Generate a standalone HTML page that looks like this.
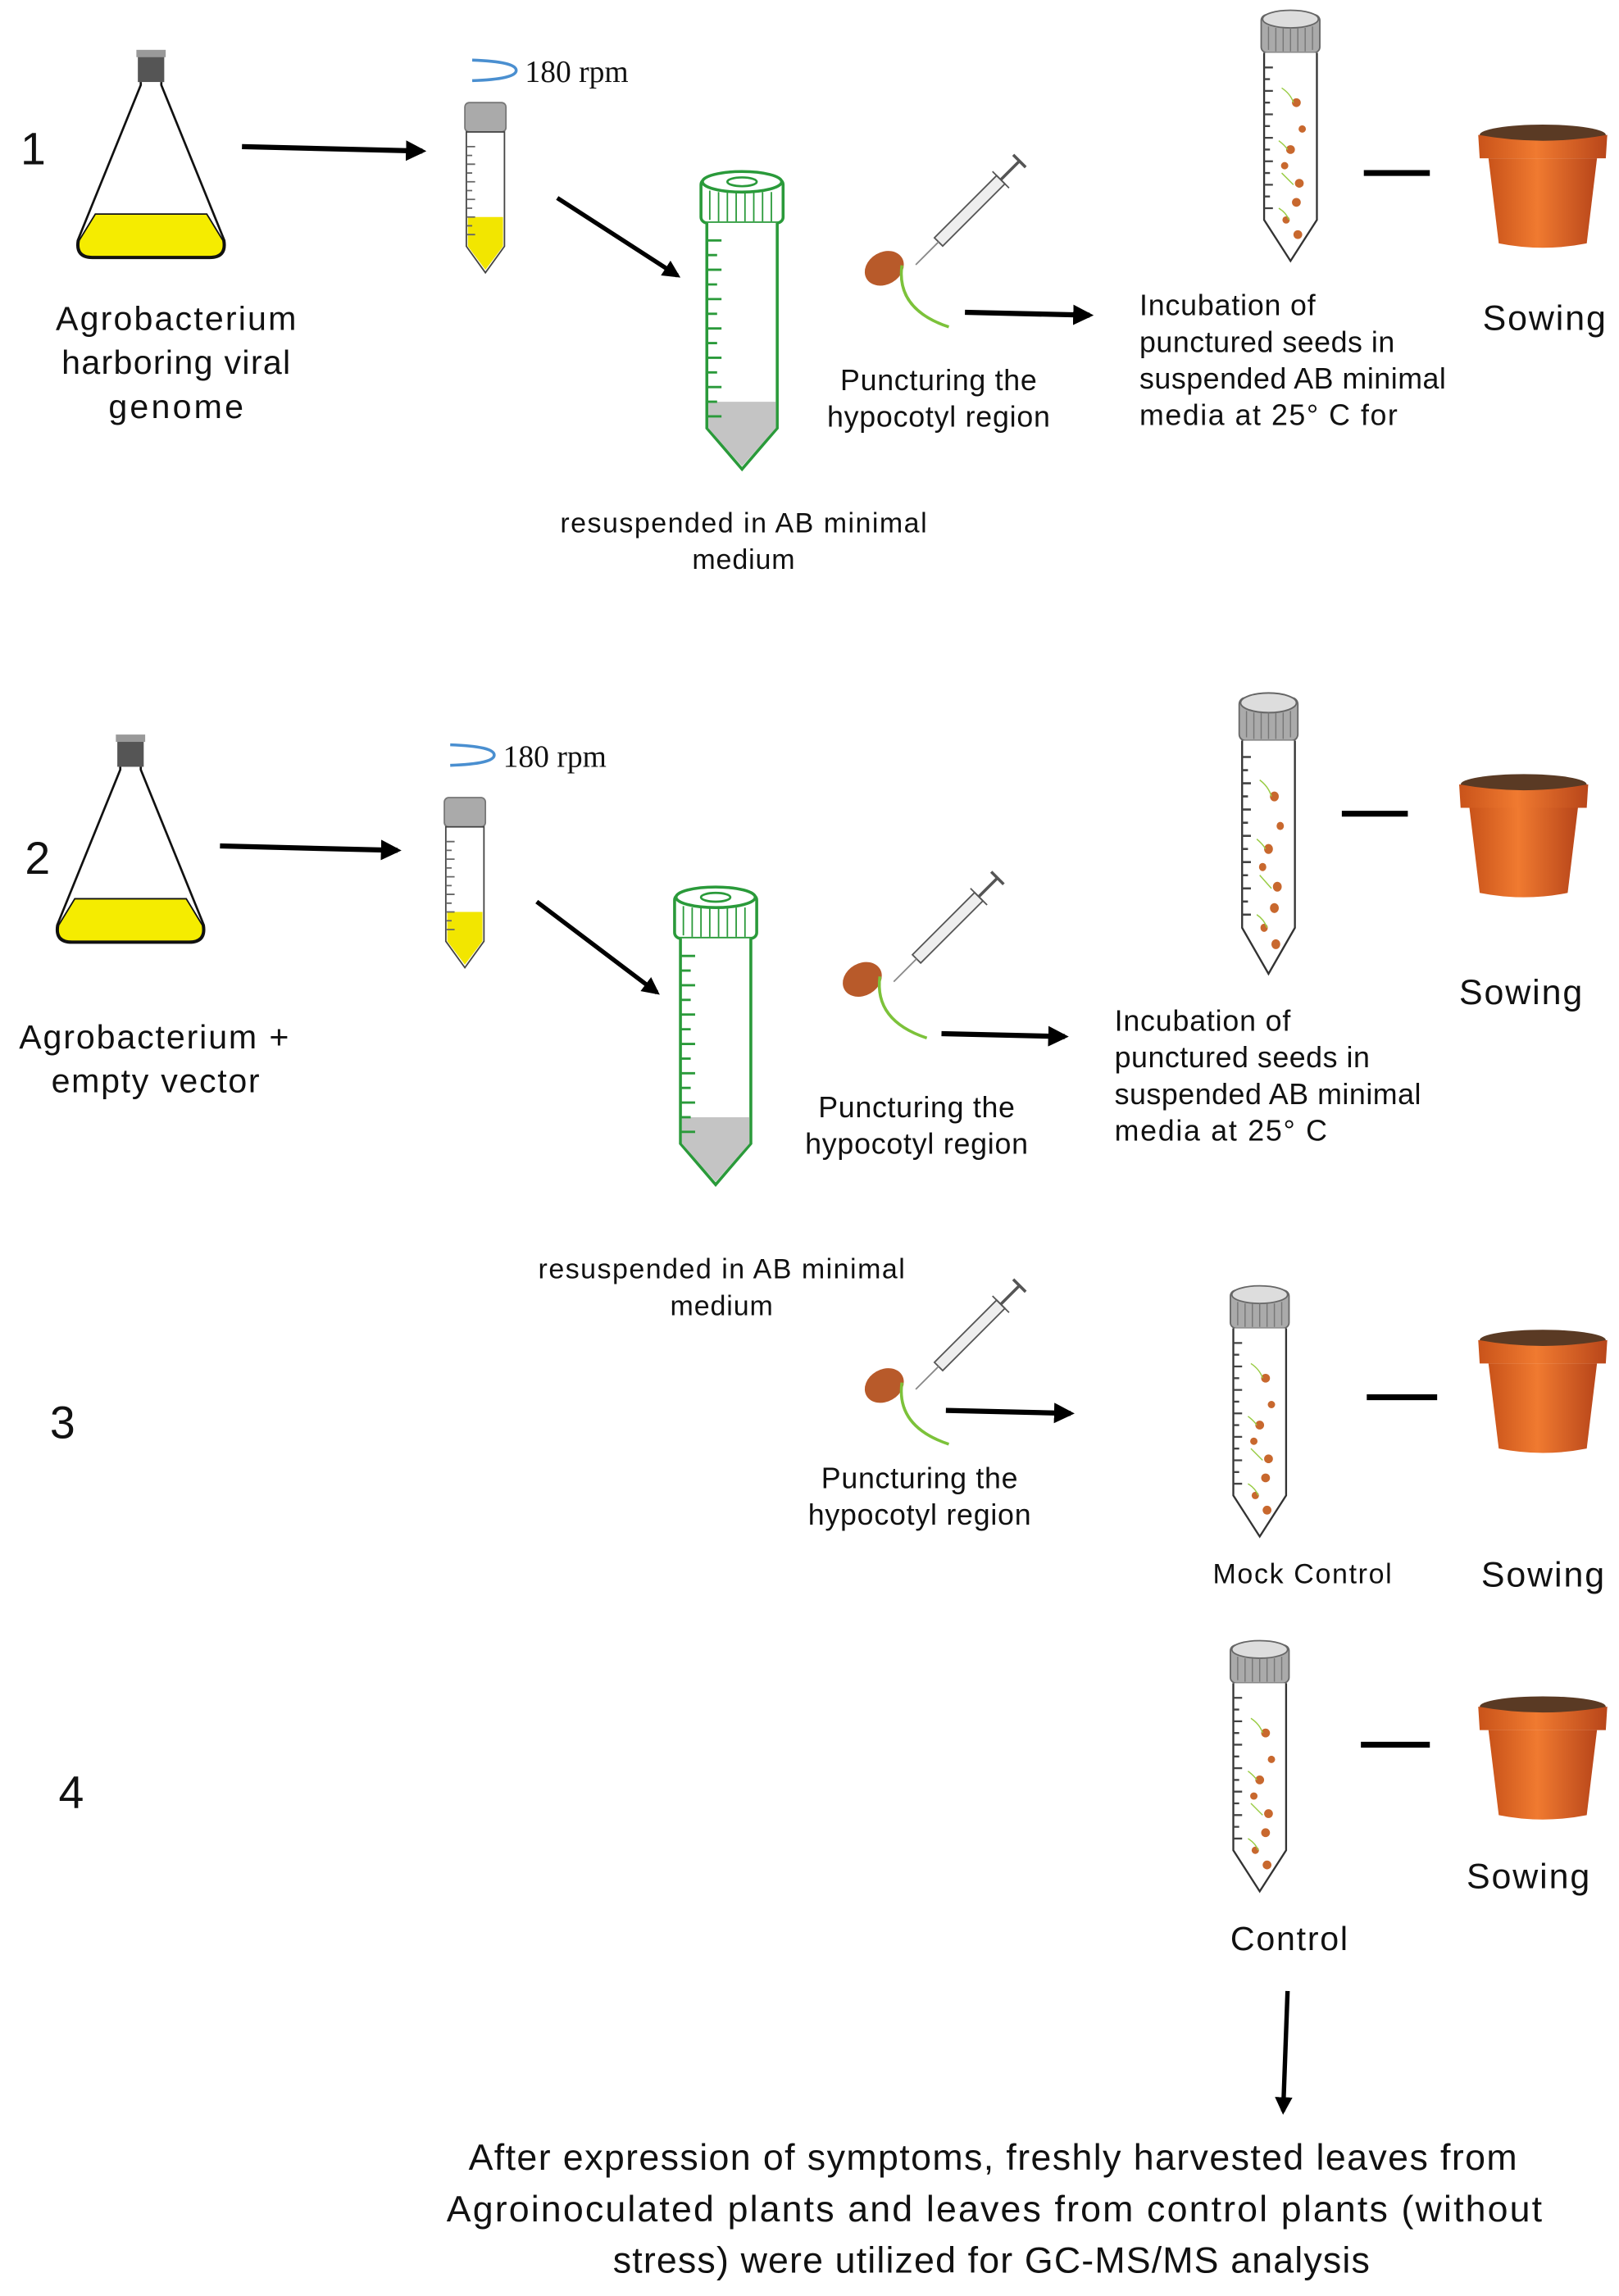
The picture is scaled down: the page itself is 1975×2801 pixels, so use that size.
<!DOCTYPE html>
<html><head><meta charset="utf-8"><style>
html,body{margin:0;padding:0;background:#fff;}
svg{display:block;}
text{font-family:"Liberation Sans",sans-serif;fill:#111;}
</style></head><body>
<svg width="1975" height="2801" viewBox="0 0 1104 1566" preserveAspectRatio="none" xmlns="http://www.w3.org/2000/svg">
<defs>
<marker id="ah" viewBox="0 0 10 10" refX="8" refY="5" markerWidth="4" markerHeight="4" orient="auto"><path d="M0,0 L10,5 L0,10 z" fill="#000"/></marker>
<g id="flask">
 <rect x="-9" y="0" width="18" height="20" fill="#555"/>
 <rect x="-10" y="-2" width="20" height="5" fill="#999"/>
 <path d="M-7,20 L-7,22 L-50,128 Q-52,140 -40,140 L40,140 Q52,140 50,128 L7,22 L7,20" fill="#fff" stroke="#111" stroke-width="1.5"/>
 <path d="M-38,110 L38,110 L49,128 Q51,139 40,139 L-40,139 Q-51,139 -49,128 z" fill="#f5ec00" stroke="#111" stroke-width="1"/>
</g>
<g id="smalltube">
 <rect x="-14" y="0" width="28" height="20" rx="3" fill="#aaa" stroke="#777"/>
 <path d="M-13,20 L-13,98 L0,116 L13,98 L13,20 z" fill="#fff" stroke="#444"/>
 <path d="M-12,78 L12,78 L12,98 L0,114 L-12,98 z" fill="#f2e600"/>
 <g stroke="#666" stroke-width="1"><path d="M-13,30h6M-13,36h4M-13,42h6M-13,48h4M-13,54h6M-13,60h4M-13,66h6M-13,72h4M-13,78h6M-13,84h4M-13,90h6"/></g>
</g>
<g id="greentube">
 <rect x="-28" y="0" width="56" height="30" rx="4" fill="#fff" stroke="#2a9a3a" stroke-width="2"/>
 <ellipse cx="0" cy="2" rx="27" ry="7" fill="#fff" stroke="#2a9a3a" stroke-width="2"/>
 <ellipse cx="0" cy="2" rx="10" ry="3" fill="none" stroke="#2a9a3a" stroke-width="1.5"/>
 <g stroke="#2a9a3a" stroke-width="1"><path d="M-22,8v20M-16,9v20M-10,9v20M-4,9v20M2,9v20M8,9v20M14,9v20M20,9v20"/></g>
 <path d="M-24,30 L-24,170 L0,198 L24,170 L24,30" fill="#fff" stroke="#2a9a3a" stroke-width="2"/>
 <path d="M-23,152 L23,152 L23,170 L0,196 L-23,170 z" fill="#c4c4c4"/>
 <g stroke="#2a9a3a" stroke-width="1.6"><path d="M-24,42h10M-24,52h7M-24,62h10M-24,72h7M-24,82h10M-24,92h7M-24,102h10M-24,112h7M-24,122h10M-24,132h7M-24,142h10M-24,152h7M-24,162h10"/></g>
</g>
<g id="seedtube">
 <rect x="-20" y="0" width="40" height="26" rx="4" fill="#aaa" stroke="#666"/>
 <ellipse cx="0" cy="3" rx="19" ry="6" fill="#ddd" stroke="#666"/>
 <g stroke="#777" stroke-width="0.8"><path d="M-15,8v16M-10,9v16M-5,9v16M0,9v16M5,9v16M10,9v16M15,8v16"/></g>
 <path d="M-18,26 L-18,140 L0,168 L18,140 L18,26" fill="#fff" stroke="#333" stroke-width="1.3"/>
 <g stroke="#444" stroke-width="1.3"><path d="M-18,36h6M-18,44h4M-18,52h6M-18,60h4M-18,68h6M-18,76h4M-18,84h6M-18,92h4M-18,100h6M-18,108h4M-18,116h6M-18,124h4M-18,132h6"/></g>
 <g fill="#c8682e"><circle cx="4" cy="60" r="3"/><circle cx="8" cy="78" r="2.5"/><circle cx="0" cy="92" r="3"/><circle cx="-4" cy="103" r="2.5"/><circle cx="6" cy="115" r="3"/><circle cx="4" cy="128" r="3"/><circle cx="-3" cy="140" r="2.5"/><circle cx="5" cy="150" r="3"/></g>
 <g stroke="#9c4" stroke-width="0.8" fill="none"><path d="M-6,50q6,4 8,10M-8,86q4,3 6,6M-6,108q4,4 8,8M-8,132q5,3 7,8"/></g>
</g>
<linearGradient id="potg" x1="0" x2="1"><stop offset="0" stop-color="#c9531a"/><stop offset="0.45" stop-color="#f07a30"/><stop offset="1" stop-color="#b8461a"/></linearGradient>
<g id="pot">
 <ellipse cx="0" cy="4" rx="43" ry="7" fill="#5a3a24"/>
 <path d="M-44,4 L-43,20 L43,20 L44,4 Q0,12 -44,4z" fill="url(#potg)"/>
 <path d="M-37,20 L-30,78 Q0,84 30,78 L37,20 z" fill="url(#potg)"/>
</g>
<g id="seed">
 <ellipse cx="0" cy="0" rx="14" ry="11" transform="rotate(-30)" fill="#b85a2a"/>
 <path d="M12,-2 Q8,28 44,40" fill="none" stroke="#7cc23a" stroke-width="2"/>
</g>
<g id="syringe">
 <g transform="rotate(-45)">
  <rect x="0" y="-4" width="60" height="8" fill="#eee" stroke="#555"/>
  <line x1="-22" y1="0" x2="0" y2="0" stroke="#888"/>
  <line x1="60" y1="0" x2="78" y2="0" stroke="#555" stroke-width="2"/>
  <line x1="60" y1="-8" x2="60" y2="8" stroke="#555"/>
  <line x1="78" y1="-6" x2="78" y2="6" stroke="#555" stroke-width="2"/>
 </g>
</g>
</defs>

<!-- Row 1 -->
<text x="14" y="112" font-size="31">1</text>
<use href="#flask" x="103" y="36"/>
<text font-size="23" text-anchor="middle" lengthAdjust="spacingAndGlyphs"><tspan x="120" y="225" textLength="164">Agrobacterium</tspan><tspan x="120" y="255" textLength="156">harboring viral</tspan><tspan x="120" y="285" textLength="92">genome</tspan></text>
<line x1="165" y1="100" x2="288" y2="103" stroke="#000" stroke-width="3.5" marker-end="url(#ah)"/>
<path d="M322,41 Q352,42 352,48 Q352,54 322,55" fill="none" stroke="#4a8fd0" stroke-width="2"/>
<text x="358" y="56" font-size="21" style="font-family:'Liberation Serif',serif">180 rpm</text>
<use href="#smalltube" x="331" y="70"/>
<line x1="380" y1="135" x2="462" y2="188" stroke="#000" stroke-width="3" marker-end="url(#ah)"/>
<use href="#greentube" x="506" y="122"/>
<text font-size="19" text-anchor="middle"><tspan x="507" y="363" textLength="250">resuspended in AB minimal</tspan><tspan x="507" y="388" textLength="70">medium</tspan></text>
<use href="#syringe" x="640" y="165"/>
<use href="#seed" x="603" y="183"/>
<text font-size="20" text-anchor="middle"><tspan x="640" y="266" textLength="134">Puncturing the</tspan><tspan x="640" y="291" textLength="152">hypocotyl region</tspan></text>
<line x1="658" y1="213" x2="743" y2="215" stroke="#000" stroke-width="3.5" marker-end="url(#ah)"/>
<use href="#seedtube" x="880" y="10"/>
<line x1="930" y1="118" x2="975" y2="118" stroke="#000" stroke-width="4"/>
<use href="#pot" x="1052" y="88"/>
<text font-size="20"><tspan x="777" y="215" textLength="120">Incubation of</tspan><tspan x="777" y="240" textLength="174">punctured seeds in</tspan><tspan x="777" y="265" textLength="209">suspended AB minimal</tspan><tspan x="777" y="290" textLength="176">media at 25° C for</tspan></text>
<text x="1011" y="225" font-size="24" textLength="84">Sowing</text>

<!-- Row 2 -->
<text x="17" y="596" font-size="31">2</text>
<use href="#flask" x="89" y="503"/>
<text font-size="23" text-anchor="middle"><tspan x="105" y="715" textLength="184">Agrobacterium +</tspan><tspan x="106" y="745" textLength="142">empty vector</tspan></text>
<line x1="150" y1="577" x2="271" y2="580" stroke="#000" stroke-width="3.5" marker-end="url(#ah)"/>
<path d="M307,508 Q337,509 337,515 Q337,521 307,522" fill="none" stroke="#4a8fd0" stroke-width="2"/>
<text x="343" y="523" font-size="21" style="font-family:'Liberation Serif',serif">180 rpm</text>
<use href="#smalltube" x="317" y="544"/>
<line x1="366" y1="615" x2="448" y2="677" stroke="#000" stroke-width="3" marker-end="url(#ah)"/>
<use href="#greentube" x="488" y="610"/>
<text font-size="19" text-anchor="middle"><tspan x="492" y="872" textLength="250">resuspended in AB minimal</tspan><tspan x="492" y="897" textLength="70">medium</tspan></text>
<use href="#syringe" x="625" y="654"/>
<use href="#seed" x="588" y="668"/>
<text font-size="20" text-anchor="middle"><tspan x="625" y="762" textLength="134">Puncturing the</tspan><tspan x="625" y="787" textLength="152">hypocotyl region</tspan></text>
<line x1="642" y1="705" x2="726" y2="707" stroke="#000" stroke-width="3.5" marker-end="url(#ah)"/>
<use href="#seedtube" x="865" y="476" transform="translate(865,476) scale(1,1.12) translate(-865,-476)"/>
<line x1="915" y1="555" x2="960" y2="555" stroke="#000" stroke-width="4"/>
<use href="#pot" x="1039" y="531"/>
<text font-size="20"><tspan x="760" y="703" textLength="120">Incubation of</tspan><tspan x="760" y="728" textLength="174">punctured seeds in</tspan><tspan x="760" y="753" textLength="209">suspended AB minimal</tspan><tspan x="760" y="778" textLength="145">media at 25° C</tspan></text>
<text x="995" y="685" font-size="24" textLength="84">Sowing</text>

<!-- Row 3 -->
<text x="34" y="981" font-size="31">3</text>
<use href="#syringe" x="640" y="932"/>
<use href="#seed" x="603" y="945"/>
<line x1="645" y1="962" x2="730" y2="964" stroke="#000" stroke-width="3.5" marker-end="url(#ah)"/>
<text font-size="20" text-anchor="middle"><tspan x="627" y="1015" textLength="134">Puncturing the</tspan><tspan x="627" y="1040" textLength="152">hypocotyl region</tspan></text>
<use href="#seedtube" x="859" y="880"/>
<line x1="932" y1="953" x2="980" y2="953" stroke="#000" stroke-width="4"/>
<use href="#pot" x="1052" y="910"/>
<text x="888" y="1080" font-size="19" text-anchor="middle" textLength="122">Mock Control</text>
<text x="1010" y="1082" font-size="24" textLength="84">Sowing</text>

<!-- Row 4 -->
<text x="40" y="1233" font-size="31">4</text>
<use href="#seedtube" x="859" y="1122"/>
<line x1="928" y1="1190" x2="975" y2="1190" stroke="#000" stroke-width="4"/>
<use href="#pot" x="1052" y="1160"/>
<text x="879" y="1330" font-size="23" text-anchor="middle" textLength="80">Control</text>
<text x="1000" y="1288" font-size="24" textLength="84">Sowing</text>
<line x1="878" y1="1358" x2="875" y2="1440" stroke="#000" stroke-width="3" marker-end="url(#ah)"/>
<text font-size="25" text-anchor="middle"><tspan x="677" y="1480" textLength="715">After expression of symptoms, freshly harvested leaves from</tspan><tspan x="678" y="1515" textLength="747">Agroinoculated plants  and leaves from control  plants (without</tspan><tspan x="676" y="1550" textLength="516">stress) were utilized for GC-MS/MS analysis</tspan></text>
</svg>
</body></html>
